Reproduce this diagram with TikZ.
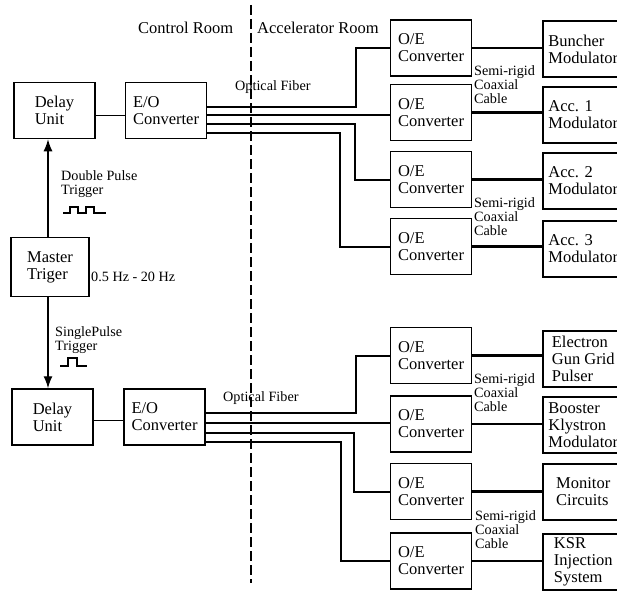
\documentclass[tikz,border=0pt]{standalone}
\usepackage{fontspec}
\setmainfont{Liberation Serif}
\usetikzlibrary{arrows.meta,positioning,calc}

\begin{document}
\begin{tikzpicture}[x=1pt,y=-1pt,
  every node/.style={font=\fontsize{16.5}{17}\selectfont},
  unit/.style={draw, line width=1.5pt, minimum width=81pt, minimum height=56pt, align=left, inner sep=1pt},
  lbl/.style={font=\fontsize{14.2}{14}\selectfont, align=left, inner sep=0pt},
  link/.style={line width=1pt},
  fiber/.style={line width=2pt},
  coax/.style={line width=2.8pt},
  trig/.style={line width=1.3pt, -{Latex[length=12pt,width=9pt]}},
  wave/.style={line width=1.1pt}]
\useasboundingbox (0,0) rectangle (617,591);
\clip (0,0) rectangle (617,591);
\coordinate (divT) at (251,5);
\coordinate (divB) at (251,583);
\draw[line width=1.3pt, dash pattern=on 10pt off 4pt] (divT) -- (divB);
\node[anchor=base west, inner sep=0pt] (ctrl) at (138,34) {Control Room};
\node[anchor=base west, inner sep=0pt] (accel) at (257,34) {Accelerator Room};
\node[unit] (delayA) at (54.5,110.5) {Delay\\Unit};
\node[unit] (eoA) at (166,110.5) {E/O\\Converter};
\node[unit, minimum width=78pt, minimum height=59pt] (master) at (50,267) {Master\\Triger};
\node[unit] (delayB) at (52.5,417) {Delay\\Unit};
\node[unit] (eoB) at (164.5,417) {E/O\\Converter};
\foreach \n/\y in {1/48,2/112.5,3/179.5,4/246.5,5/355.5,6/424,7/491.5,8/561}
  \node[unit] (oe\n) at (431,\y) {O/E\\Converter};
\foreach \n/\y/\txt in {1/49/Buncher\\Modulator, 2/115/Acc. 1\\Modulator, 3/181/Acc. 2\\Modulator, 4/249/Acc. 3\\Modulator, 5/359/Electron\\Gun Grid\\Pulser, 6/425/Booster\\Klystron\\Modulator, 7/492/Monitor\\Circuits, 8/562/KSR\\Injection\\System}
  \node[unit, anchor=west] (dev\n) at (542,\y) {\txt};
\node[lbl, anchor=base west] (ofA) at (235,91) {Optical Fiber};
\node[lbl, anchor=base west] (ofB) at (223,401) {Optical Fiber};
\node[lbl, anchor=base west] (freq) at (91,281) {0.5 Hz - 20 Hz};
\node[lbl, anchor=north west] (dbl) at (61,170) {Double Pulse\\Trigger};
\node[lbl, anchor=north west] (sgl) at (55,326) {SinglePulse\\Trigger};
\node[lbl, anchor=north west] (cxA) at (474,65) {Semi-rigid\\Coaxial\\Cable};
\node[lbl, anchor=north west] (cxB) at (474,197) {Semi-rigid\\Coaxial\\Cable};
\node[lbl, anchor=north west] (cxC) at (474,373) {Semi-rigid\\Coaxial\\Cable};
\node[lbl, anchor=north west] (cxD) at (475,510) {Semi-rigid\\Coaxial\\Cable};
\coordinate (lA) at ([yshift=-4.5pt]delayA.east);
\draw[link] (lA) -- (lA -| eoA.west);
\coordinate (lB) at ([yshift=-3pt]delayB.east);
\draw[link] (lB) -- (lB -| eoB.west);
\coordinate (tA) at ([xshift=-2pt]master.north);
\draw[trig] (tA) -- (tA |- delayA.south);
\coordinate (tB) at ([xshift=-2pt]master.south);
\draw[trig] (tB) -- (tB |- delayB.north);
\draw[wave] (63,213) -- (70,213) -- (70,207) -- (78,207) -- (78,213) -- (86,213) -- (86,207) -- (94,207) -- (94,213) -- (106,213);
\draw[wave] (60,366) -- (68,366) -- (68,358) -- (77,358) -- (77,366) -- (87,366);
\foreach \k/\s in {1/3.5,2/-4.5,3/-13.5,4/-22.5}
  \coordinate (fA\k) at ([yshift=\s pt]eoA.east);
\foreach \k/\s in {1/4,2/-6,3/-16,4/-25}
  \coordinate (fB\k) at ([yshift=\s pt]eoB.east);
\draw[fiber] (fA1) -| ($(oe1.west)+(-33.5,0)$) -- (oe1.west);
\draw[fiber] (fA2) -- (fA2 -| oe2.west);
\draw[fiber] (fA3) -| ($(oe3.west)+(-34.5,0)$) -- (oe3.west);
\draw[fiber] (fA4) -| ($(oe4.west)+(-49.5,0)$) -- (oe4.west);
\draw[fiber] (fB1) -| ($(oe5.west)+(-34,0)$) -- (oe5.west);
\draw[fiber] (fB2) -- (fB2 -| oe6.west);
\draw[fiber] (fB3) -| ($(oe7.west)+(-36,0)$) -- (oe7.west);
\draw[fiber] (fB4) -| ($(oe8.west)+(-49,0)$) -- (oe8.west);
\foreach \n in {1,...,8}
  \draw[coax] (oe\n.east) -- (oe\n.east -| dev\n.west);
\end{tikzpicture}
\end{document}
